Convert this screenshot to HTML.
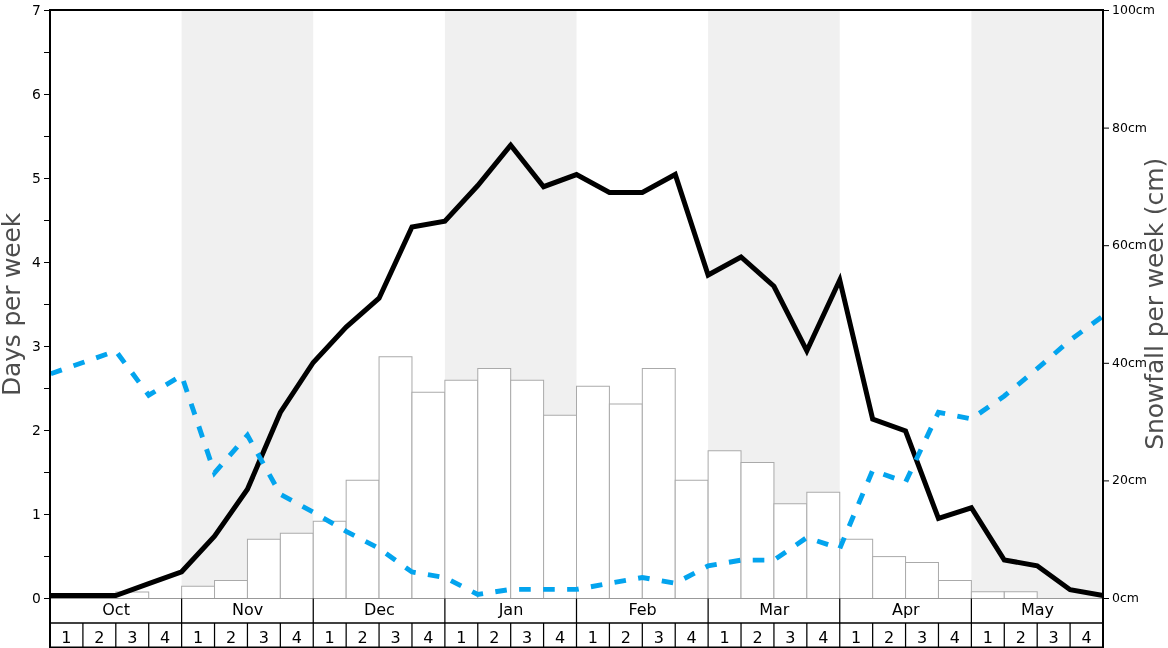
<!DOCTYPE html>
<html lang="en"><head><meta charset="utf-8"><title>Snow history</title>
<style>html,body{margin:0;padding:0;background:#fff;overflow:hidden}svg{display:block;will-change:transform}text{font-family:'DejaVu Sans','Liberation Sans',sans-serif}</style></head><body>
<svg width="1168" height="648" viewBox="0 0 1168 648">
<rect width="1168" height="648" fill="#fff"/>
<g fill="#f0f0f0">
<rect x="181.62" y="10.5" width="131.62" height="588.0"/>
<rect x="444.88" y="10.5" width="131.62" height="588.0"/>
<rect x="708.12" y="10.5" width="131.62" height="588.0"/>
<rect x="971.38" y="10.5" width="130.12" height="588.0"/>
</g>
<g fill="#fff" stroke="#aaaaaa" stroke-width="1">
<rect x="115.81" y="592" width="32.906" height="6.50"/>
<rect x="181.62" y="586.25" width="32.906" height="12.25"/>
<rect x="214.53" y="580.5" width="32.906" height="18.00"/>
<rect x="247.44" y="539.25" width="32.906" height="59.25"/>
<rect x="280.34" y="533.25" width="32.906" height="65.25"/>
<rect x="313.25" y="521.25" width="32.906" height="77.25"/>
<rect x="346.16" y="480.25" width="32.906" height="118.25"/>
<rect x="379.06" y="356.75" width="32.906" height="241.75"/>
<rect x="411.97" y="392.25" width="32.906" height="206.25"/>
<rect x="444.88" y="380.25" width="32.906" height="218.25"/>
<rect x="477.78" y="368.5" width="32.906" height="230.00"/>
<rect x="510.69" y="380.25" width="32.906" height="218.25"/>
<rect x="543.59" y="415.25" width="32.906" height="183.25"/>
<rect x="576.50" y="386.25" width="32.906" height="212.25"/>
<rect x="609.41" y="404" width="32.906" height="194.50"/>
<rect x="642.31" y="368.5" width="32.906" height="230.00"/>
<rect x="675.22" y="480.25" width="32.906" height="118.25"/>
<rect x="708.12" y="450.75" width="32.906" height="147.75"/>
<rect x="741.03" y="462.5" width="32.906" height="136.00"/>
<rect x="773.94" y="503.75" width="32.906" height="94.75"/>
<rect x="806.84" y="492.25" width="32.906" height="106.25"/>
<rect x="839.75" y="539.25" width="32.906" height="59.25"/>
<rect x="872.66" y="556.6" width="32.906" height="41.90"/>
<rect x="905.56" y="562.5" width="32.906" height="36.00"/>
<rect x="938.47" y="580.5" width="32.906" height="18.00"/>
<rect x="971.38" y="591.75" width="32.906" height="6.75"/>
<rect x="1004.28" y="591.75" width="32.906" height="6.75"/>
</g>
<line x1="50.0" y1="598.5" x2="1103.0" y2="598.5" stroke="#999" stroke-width="1.2"/>
<polyline points="50.00,595.5 82.91,595.5 115.81,595.5 148.72,583.6 181.62,571.75 214.53,536.25 247.44,489.25 280.34,412.5 313.25,362.5 346.16,327 379.06,298.25 411.97,227 444.88,221.3 477.78,185.5 510.69,145.2 543.59,186.7 576.50,174.6 609.41,192.5 642.31,192.5 675.22,174.5 708.12,275 741.03,257 773.94,286.25 806.84,350.8 839.75,280 872.66,419.2 905.56,431.0 938.47,518.5 971.38,507.75 1004.28,560 1037.19,565.75 1070.09,589.7 1103.00,595.5" fill="none" stroke="#000" stroke-width="5" stroke-linejoin="miter" stroke-miterlimit="10"/>
<polyline points="50.00,374.0 82.91,362.5 115.81,351.0 148.72,395.2 181.62,375.5 214.53,472.9 247.44,435.2 280.34,494.3 313.25,512.2 346.16,531.3 379.06,548.4 411.97,572.0 444.88,577.5 477.78,594.5 510.69,589.4 543.59,589.4 576.50,589.4 609.41,583.3 642.31,577.5 675.22,583.3 708.12,565.9 741.03,560.1 773.94,560.1 806.84,537.5 839.75,548.5 872.66,470.4 905.56,482.2 938.47,412.3 971.38,418.9 1004.28,396.0 1037.19,368.7 1070.09,340.2 1103.00,316.0" fill="none" stroke="#03a4ee" stroke-width="4.9" stroke-dasharray="11.6 12.4" stroke-dashoffset="-0.9" stroke-linejoin="miter"/>
<g stroke="#000" fill="none">
<line x1="50.0" y1="623.0" x2="1103.0" y2="623.0" stroke-width="1.7"/>
<line x1="50.0" y1="647.25" x2="1103.0" y2="647.25" stroke-width="1.5"/>
<line x1="82.91" y1="623.0" x2="82.91" y2="648" stroke-width="1.25"/>
<line x1="115.81" y1="623.0" x2="115.81" y2="648" stroke-width="1.25"/>
<line x1="148.72" y1="623.0" x2="148.72" y2="648" stroke-width="1.25"/>
<line x1="181.62" y1="598.5" x2="181.62" y2="648" stroke-width="1.25"/>
<line x1="214.53" y1="623.0" x2="214.53" y2="648" stroke-width="1.25"/>
<line x1="247.44" y1="623.0" x2="247.44" y2="648" stroke-width="1.25"/>
<line x1="280.34" y1="623.0" x2="280.34" y2="648" stroke-width="1.25"/>
<line x1="313.25" y1="598.5" x2="313.25" y2="648" stroke-width="1.25"/>
<line x1="346.16" y1="623.0" x2="346.16" y2="648" stroke-width="1.25"/>
<line x1="379.06" y1="623.0" x2="379.06" y2="648" stroke-width="1.25"/>
<line x1="411.97" y1="623.0" x2="411.97" y2="648" stroke-width="1.25"/>
<line x1="444.88" y1="598.5" x2="444.88" y2="648" stroke-width="1.25"/>
<line x1="477.78" y1="623.0" x2="477.78" y2="648" stroke-width="1.25"/>
<line x1="510.69" y1="623.0" x2="510.69" y2="648" stroke-width="1.25"/>
<line x1="543.59" y1="623.0" x2="543.59" y2="648" stroke-width="1.25"/>
<line x1="576.50" y1="598.5" x2="576.50" y2="648" stroke-width="1.25"/>
<line x1="609.41" y1="623.0" x2="609.41" y2="648" stroke-width="1.25"/>
<line x1="642.31" y1="623.0" x2="642.31" y2="648" stroke-width="1.25"/>
<line x1="675.22" y1="623.0" x2="675.22" y2="648" stroke-width="1.25"/>
<line x1="708.12" y1="598.5" x2="708.12" y2="648" stroke-width="1.25"/>
<line x1="741.03" y1="623.0" x2="741.03" y2="648" stroke-width="1.25"/>
<line x1="773.94" y1="623.0" x2="773.94" y2="648" stroke-width="1.25"/>
<line x1="806.84" y1="623.0" x2="806.84" y2="648" stroke-width="1.25"/>
<line x1="839.75" y1="598.5" x2="839.75" y2="648" stroke-width="1.25"/>
<line x1="872.66" y1="623.0" x2="872.66" y2="648" stroke-width="1.25"/>
<line x1="905.56" y1="623.0" x2="905.56" y2="648" stroke-width="1.25"/>
<line x1="938.47" y1="623.0" x2="938.47" y2="648" stroke-width="1.25"/>
<line x1="971.38" y1="598.5" x2="971.38" y2="648" stroke-width="1.25"/>
<line x1="1004.28" y1="623.0" x2="1004.28" y2="648" stroke-width="1.25"/>
<line x1="1037.19" y1="623.0" x2="1037.19" y2="648" stroke-width="1.25"/>
<line x1="1070.09" y1="623.0" x2="1070.09" y2="648" stroke-width="1.25"/>
</g>
<g stroke="#000" stroke-width="2" fill="none">
<line x1="50.0" y1="9.0" x2="50.0" y2="648"/>
<line x1="1103.0" y1="9.0" x2="1103.0" y2="648"/>
<line x1="49.0" y1="10.0" x2="1104.0" y2="10.0"/>
</g>
<g stroke="#000" stroke-width="1" fill="none">
<line x1="44.0" y1="598.5" x2="50.0" y2="598.5"/>
<line x1="44.0" y1="556.5" x2="50.0" y2="556.5"/>
<line x1="44.0" y1="514.5" x2="50.0" y2="514.5"/>
<line x1="44.0" y1="472.5" x2="50.0" y2="472.5"/>
<line x1="44.0" y1="430.5" x2="50.0" y2="430.5"/>
<line x1="44.0" y1="388.5" x2="50.0" y2="388.5"/>
<line x1="44.0" y1="346.5" x2="50.0" y2="346.5"/>
<line x1="44.0" y1="304.5" x2="50.0" y2="304.5"/>
<line x1="44.0" y1="262.5" x2="50.0" y2="262.5"/>
<line x1="44.0" y1="220.5" x2="50.0" y2="220.5"/>
<line x1="44.0" y1="178.5" x2="50.0" y2="178.5"/>
<line x1="44.0" y1="136.5" x2="50.0" y2="136.5"/>
<line x1="44.0" y1="94.5" x2="50.0" y2="94.5"/>
<line x1="44.0" y1="52.5" x2="50.0" y2="52.5"/>
<line x1="44.0" y1="10.5" x2="50.0" y2="10.5"/>
<line x1="1103.0" y1="598.5" x2="1109.0" y2="598.5"/>
<line x1="1103.0" y1="480.9" x2="1109.0" y2="480.9"/>
<line x1="1103.0" y1="363.3" x2="1109.0" y2="363.3"/>
<line x1="1103.0" y1="245.70000000000005" x2="1109.0" y2="245.70000000000005"/>
<line x1="1103.0" y1="128.10000000000002" x2="1109.0" y2="128.10000000000002"/>
<line x1="1103.0" y1="10.5" x2="1109.0" y2="10.5"/>
</g>
<g font-size="13.89" text-anchor="end" fill="#000">
<text x="40.9" y="602.50">0</text>
<text x="40.9" y="518.50">1</text>
<text x="40.9" y="434.50">2</text>
<text x="40.9" y="350.50">3</text>
<text x="40.9" y="266.50">4</text>
<text x="40.9" y="182.50">5</text>
<text x="40.9" y="98.50">6</text>
<text x="40.9" y="14.50">7</text>
</g>
<g font-size="12.5" text-anchor="start" fill="#000">
<text x="1112" y="602.00">0cm</text>
<text x="1112" y="484.40">20cm</text>
<text x="1112" y="366.80">40cm</text>
<text x="1112" y="249.20">60cm</text>
<text x="1112" y="131.60">80cm</text>
<text x="1112" y="14.00">100cm</text>
</g>
<g font-size="16" text-anchor="middle" fill="#000">
<text x="116.11" y="614.9">Oct</text>
<text x="247.74" y="614.9">Nov</text>
<text x="379.36" y="614.9">Dec</text>
<text x="510.99" y="614.9">Jan</text>
<text x="642.61" y="614.9">Feb</text>
<text x="774.24" y="614.9">Mar</text>
<text x="905.86" y="614.9">Apr</text>
<text x="1037.49" y="614.9">May</text>
<text x="66.45" y="642.8">1</text>
<text x="99.36" y="642.8">2</text>
<text x="132.27" y="642.8">3</text>
<text x="165.17" y="642.8">4</text>
<text x="198.08" y="642.8">1</text>
<text x="230.98" y="642.8">2</text>
<text x="263.89" y="642.8">3</text>
<text x="296.80" y="642.8">4</text>
<text x="329.70" y="642.8">1</text>
<text x="362.61" y="642.8">2</text>
<text x="395.52" y="642.8">3</text>
<text x="428.42" y="642.8">4</text>
<text x="461.33" y="642.8">1</text>
<text x="494.23" y="642.8">2</text>
<text x="527.14" y="642.8">3</text>
<text x="560.05" y="642.8">4</text>
<text x="592.95" y="642.8">1</text>
<text x="625.86" y="642.8">2</text>
<text x="658.77" y="642.8">3</text>
<text x="691.67" y="642.8">4</text>
<text x="724.58" y="642.8">1</text>
<text x="757.48" y="642.8">2</text>
<text x="790.39" y="642.8">3</text>
<text x="823.30" y="642.8">4</text>
<text x="856.20" y="642.8">1</text>
<text x="889.11" y="642.8">2</text>
<text x="922.02" y="642.8">3</text>
<text x="954.92" y="642.8">4</text>
<text x="987.83" y="642.8">1</text>
<text x="1020.73" y="642.8">2</text>
<text x="1053.64" y="642.8">3</text>
<text x="1086.55" y="642.8">4</text>
</g>
<g font-size="25" text-anchor="middle" fill="#4d4d4d">
<text transform="translate(20.4,304.5) rotate(-90)" letter-spacing="-0.2">Days per week</text>
<text transform="translate(1163,303.9) rotate(-90)" letter-spacing="-0.1">Snowfall per week (cm)</text>
</g>
</svg></body></html>
